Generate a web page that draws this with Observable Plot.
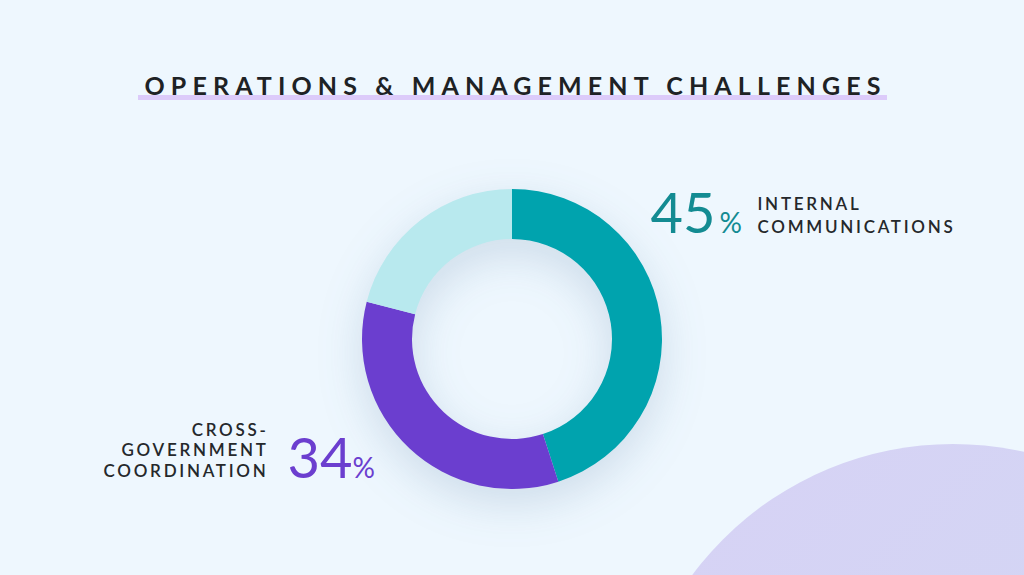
<!DOCTYPE html>
<html>
<head>
<meta charset="utf-8">
<script src="https://cdn.jsdelivr.net/npm/d3@7"></script>
<script src="https://cdn.jsdelivr.net/npm/@observablehq/plot@0.6"></script>
<style>
  html, body { margin: 0; padding: 0; background: #EEF7FE; }
  #wrap { position: relative; width: 1024px; height: 575px; overflow: hidden; background: #EEF7FE; font-family: Lato, "Open Sans", sans-serif; }
  #blob { position: absolute; left: 628px; top: 444px; width: 650px; height: 650px; border-radius: 50%;
          background: linear-gradient(135deg, #D7D2F5 0%, #D3D5F4 50%, #CCDDF5 100%); }
  #title { position: absolute; left: 0; top: 73px; width: 1024px; text-align: center; line-height: 25px; margin: 0; }
  #title span { font-family: Lato, sans-serif; font-weight: 700; font-size: 25px; color: #1E2225;
                letter-spacing: 0.245em; padding-left: 7px;
                background: linear-gradient(#DCCBFA, #DCCBFA) no-repeat left bottom / 100% 5px; }
  #chart { position: absolute; left: 0; top: 0; }
  #chart svg { background: transparent; overflow: visible; }
  g[aria-description="label"] text { letter-spacing: 0.16em; }
</style>
</head>
<body>
<div id="wrap">
  <div id="blob"></div>
  <h2 id="title"><span>OPERATIONS &amp; MANAGEMENT CHALLENGES</span></h2>
  <div id="chart"></div>
</div>
<script>
// ---- data ----
const categories = ["Internal communications", "Cross-government coordination", "Other"];
const shares = [45, 34, 21];
const labelTexts = ["INTERNAL\nCOMMUNICATIONS", "CROSS-\nGOVERNMENT\nCOORDINATION"];
const colors = ["#00A3AE", "#6B3ECF", "#B8E9EE"];
const numberColors = ["#138B92", "#6B3ECF"];

// ---- layout constants ----
const W = 1024, H = 575;
const CX = 512, CY = 339, R_OUT = 150, R_IN = 100;

function donut(index, scales) {
  const sx = scales.x, sy = scales.y;
  const pie = d3.pie().sort(null).value(d => d.value)(categories.map((c, i) => ({category: c, value: shares[i]})));
  const arc = d3.arc().innerRadius(R_IN).outerRadius(R_OUT);
  const g = d3.create("svg:g")
    .attr("transform", `translate(${sx(CX)},${sy(CY)})`)
    .style("filter", "drop-shadow(0px 14px 22px rgba(40,90,130,0.17))");
  g.selectAll("path").data(pie).join("path")
    .attr("d", arc)
    .attr("fill", (d, i) => colors[i]);
  return g.node();
}

const plot = Plot.plot({
  width: W,
  height: H,
  margin: 0,
  x: {domain: [0, W], range: [0, W], axis: null},
  y: {domain: [0, H], range: [0, H], axis: null},
  style: {background: "transparent", fontFamily: "Lato, sans-serif"},
  marks: [
    donut,
    // big percentages
    Plot.text([shares[0]], {x: 650, y: 232, text: d => String(d), textAnchor: "start", lineAnchor: "bottom",
      fontSize: 56, fill: numberColors[0], fontFamily: "Lato"}),
    Plot.text([shares[0]], {x: 719, y: 232, text: () => "%", textAnchor: "start", lineAnchor: "bottom",
      fontSize: 28, fill: numberColors[0], fontFamily: "Lato"}),
    Plot.text([shares[1]], {x: 287, y: 477, text: d => String(d), textAnchor: "start", lineAnchor: "bottom",
      fontSize: 56, fill: numberColors[1], fontFamily: "Lato"}),
    Plot.text([shares[1]], {x: 352, y: 477, text: () => "%", textAnchor: "start", lineAnchor: "bottom",
      fontSize: 28, fill: numberColors[1], fontFamily: "Lato"}),
    // category labels
    Plot.text([labelTexts[0]], {x: 757, y: 232, text: d => d, textAnchor: "start", lineAnchor: "bottom",
      fontSize: 17, fontWeight: 600, lineHeight: 1.3, fill: "#25282B", fontFamily: "Lato", ariaDescription: "label"}),
    Plot.text([labelTexts[1]], {x: 268, y: 476, text: d => d, textAnchor: "end", lineAnchor: "bottom",
      fontSize: 17, fontWeight: 600, lineHeight: 1.2, fill: "#25282B", fontFamily: "Lato", ariaDescription: "label"})
  ]
});
document.getElementById("chart").appendChild(plot);
</script>
</body>
</html>
